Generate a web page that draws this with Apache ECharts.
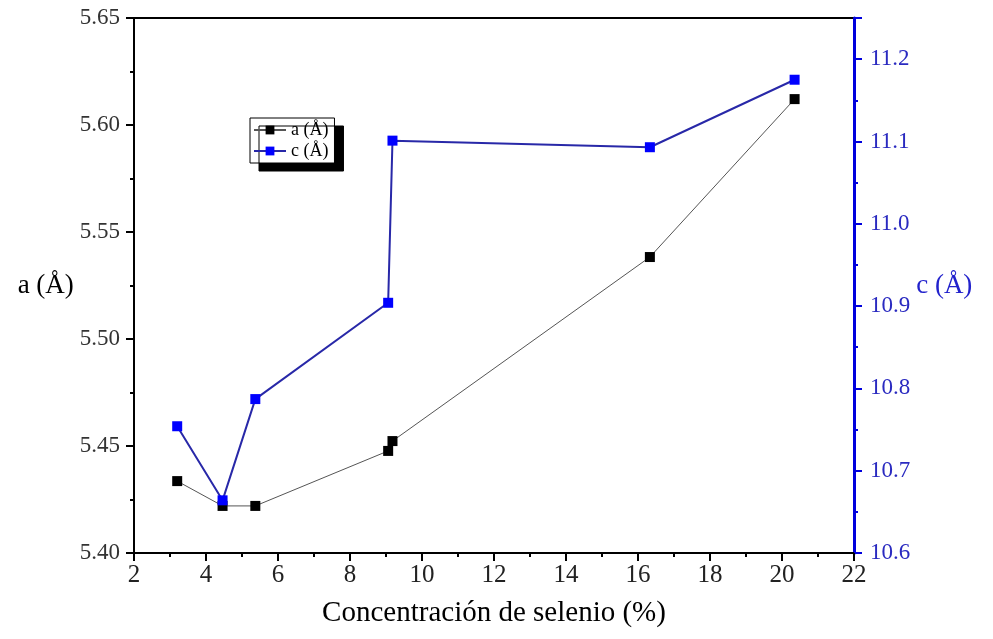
<!DOCTYPE html>
<html>
<head>
<meta charset="utf-8">
<script src="https://cdn.jsdelivr.net/npm/echarts@6/dist/echarts.min.js"></script>
<style>
  html, body { margin: 0; padding: 0; background: #fff; }
  #chart { width: 993px; height: 639px; }
</style>
</head>
<body>
<div id="chart"></div>
<script>
// concentración de selenio (%)
var concentracion = [3.20, 4.46, 5.37, 9.06, 9.18, 16.33, 20.35];
// parámetro de red a (Å)
var valoresA = [5.4336, 5.4220, 5.4220, 5.4477, 5.4523, 5.5383, 5.6121];
// parámetro de red c (Å)
var valoresC = [10.754, 10.664, 10.787, 10.904, 11.101, 11.093, 11.175];

var serifFont = '"Liberation Serif", serif';

function pares(xs, ys) {
    var res = [];
    for (var i = 0; i < xs.length; i++) {
        res.push([xs[i], ys[i]]);
    }
    return res;
}

var myChart = echarts.init(document.getElementById('chart'));

var option = {
    animation: false,
    backgroundColor: '#fff',
    grid: {
        left: 134,
        right: 139,
        top: 18,
        bottom: 86,
        show: true,
        borderColor: '#000',
        borderWidth: 2
    },
    legend: {
        left: 250,
        top: 118,
        orient: 'vertical',
        backgroundColor: '#fff',
        borderColor: '#000',
        borderWidth: 1,
        borderRadius: 0,
        padding: [3, 6, 3, 3],
        itemGap: 3,
        itemWidth: 32,
        itemHeight: 11,
        shadowColor: '#000',
        shadowBlur: 0,
        shadowOffsetX: 9,
        shadowOffsetY: 8,
        textStyle: { fontFamily: serifFont, fontSize: 18, color: '#000' },
        data: ['a (Å)', 'c (Å)']
    },
    xAxis: {
        type: 'value',
        min: 2,
        max: 22,
        interval: 2,
        name: 'Concentración de selenio (%)',
        nameLocation: 'middle',
        nameGap: 46,
        nameTextStyle: { fontFamily: serifFont, fontSize: 29, color: '#000' },
        axisLine: { show: true, lineStyle: { color: '#000', width: 2 } },
        axisTick: { show: true, length: 8, lineStyle: { color: '#000', width: 2 } },
        minorTick: { show: true, splitNumber: 2, length: 4, lineStyle: { color: '#000', width: 2 } },
        splitLine: { show: false },
        axisLabel: { fontFamily: serifFont, fontSize: 25, color: '#222', margin: 10 }
    },
    yAxis: [
        {
            type: 'value',
            min: 5.40,
            max: 5.65,
            interval: 0.05,
            name: 'a (Å)',
            nameLocation: 'middle',
            nameRotate: 0,
            nameGap: 58,
            nameTextStyle: { fontFamily: serifFont, fontSize: 27, color: '#000', align: 'right' },
            axisLine: { show: true, lineStyle: { color: '#000', width: 2 } },
            axisTick: { show: true, length: 8, lineStyle: { color: '#000', width: 2 } },
            minorTick: { show: true, splitNumber: 2, length: 4, lineStyle: { color: '#000', width: 2 } },
            splitLine: { show: false },
            axisLabel: {
                fontFamily: serifFont, fontSize: 23, color: '#333', margin: 14,
                formatter: function (v) { return v.toFixed(2); }
            }
        },
        {
            type: 'value',
            position: 'right',
            min: 10.6,
            max: 11.25,
            interval: 0.1,
            name: 'c (Å)',
            nameLocation: 'middle',
            nameRotate: 0,
            nameGap: 26,
            nameTextStyle: { fontFamily: serifFont, fontSize: 27, color: '#2222cc', align: 'left' },
            axisLine: { show: true, lineStyle: { color: '#0000dd', width: 3 } },
            axisTick: { show: true, length: 8, lineStyle: { color: '#0000dd', width: 2 } },
            minorTick: { show: true, splitNumber: 2, length: 4, lineStyle: { color: '#0000dd', width: 2 } },
            splitLine: { show: false },
            axisLabel: {
                fontFamily: serifFont, fontSize: 23, color: '#2a2ac0', margin: 16,
                showMaxLabel: false,
                formatter: function (v) { return v > 11.21 ? '' : v.toFixed(1); }
            }
        }
    ],
    series: [
        {
            name: 'a (Å)',
            type: 'line',
            yAxisIndex: 0,
            data: pares(concentracion, valoresA),
            symbol: 'rect',
            symbolSize: 10,
            itemStyle: { color: '#000' },
            lineStyle: { color: '#555', width: 1 },
            z: 3
        },
        {
            name: 'c (Å)',
            type: 'line',
            yAxisIndex: 1,
            data: pares(concentracion, valoresC),
            symbol: 'rect',
            symbolSize: 10,
            itemStyle: { color: '#0000ff' },
            lineStyle: { color: '#2828a8', width: 2 },
            z: 4
        }
    ]
};

myChart.setOption(option);
</script>
</body>
</html>
